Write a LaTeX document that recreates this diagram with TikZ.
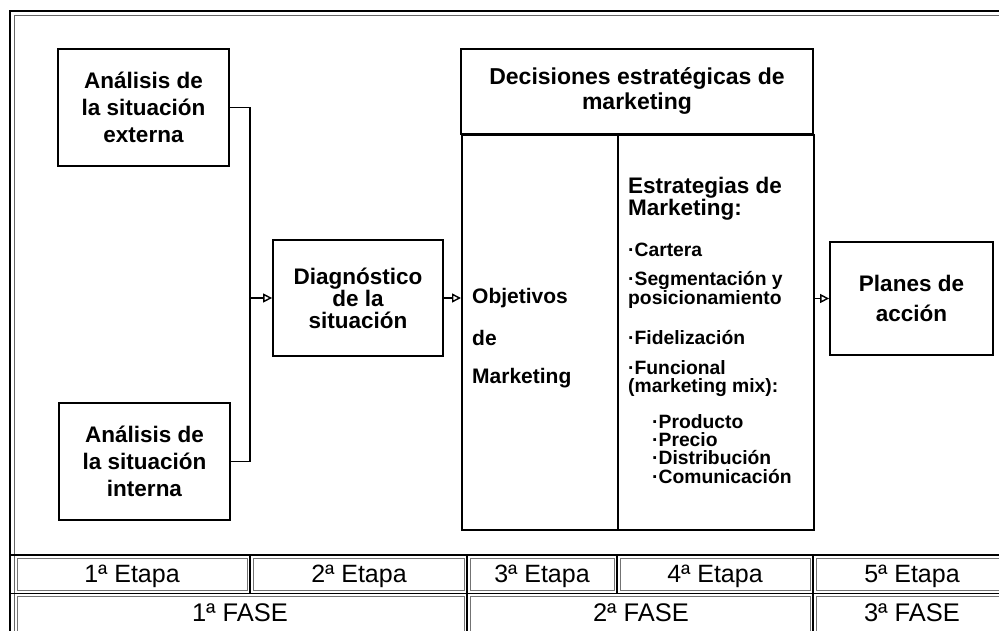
\documentclass[tikz,border=0pt]{standalone}
\usepackage{fontspec}
\setmainfont{Liberation Sans}
\usetikzlibrary{arrows.meta}
\begin{document}
\begin{tikzpicture}[x=1pt,y=-1pt,
  box/.style={draw,line width=1.8pt,inner sep=0pt,align=center,
    font=\bfseries\fontsize{22.5}{27}\selectfont},
  cell/.style={draw,line width=1.4pt},
  incell/.style={draw,line width=0.5pt,black!55},
  lbl/.style={inner sep=0pt,anchor=west,font=\bfseries\fontsize{19.3}{20}\selectfont},
  tlbl/.style={inner sep=0pt,font=\fontsize{25}{26}\selectfont},
  conn/.style={line width=1.5pt},
  arr/.style={line width=1.5pt,-{Triangle[open,length=9pt,width=9pt,line width=1.4pt]}}]
\useasboundingbox (0,0) rectangle (999,631);
\fill[white] (0,0) rectangle (999,631);
% outer frame (double)
\draw[line width=1.4pt] (10,11) rectangle (1012,645);
\draw[line width=0.6pt,black!60] (14,15) rectangle (1008,641);
% boxes
\node[box,minimum width=171,minimum height=117] (ext) at (143.5,107.5)
  {Análisis de\\la situación\\externa};
\node[box,minimum width=171,minimum height=117] (int) at (144.5,461.5)
  {Análisis de\\la situación\\interna};
\node[box,minimum width=170,minimum height=116,
  font=\bfseries\fontsize{22.5}{22}\selectfont] (diag) at (358,298)
  {Diagnóstico\\de la\\situación};
\node[box,minimum width=163,minimum height=113,
  font=\bfseries\fontsize{22.5}{30}\selectfont] (plan) at (911.5,298.5)
  {Planes de\\acción};
% big decision box
\node[box,minimum width=352,minimum height=85,
  font=\bfseries\fontsize{23}{25}\selectfont] (head) at (637,91.5)
  {Decisiones estratégicas de\\marketing};
\node[box,minimum width=156,minimum height=395,anchor=north west] (obj) at (461,134) {};
\node[box,minimum width=196,minimum height=395,anchor=north west] (est) at (617,134) {};
% objetivos text
\node[lbl,font=\bfseries\fontsize{21}{22}\selectfont] (o1) at (472,298) {Objetivos};
\node[lbl,font=\bfseries\fontsize{21}{22}\selectfont] (o2) at (472,338) {de};
\node[lbl,font=\bfseries\fontsize{21}{22}\selectfont] (o3) at (472,378) {Marketing};
% estrategias text
\node[lbl,font=\bfseries\fontsize{22.5}{22}\selectfont] (s1) at (628,188) {Estrategias de};
\node[lbl,font=\bfseries\fontsize{22.5}{22}\selectfont] (s2) at (628,210) {Marketing:};
\node[lbl] (s3) at (628,250) {·Cartera};
\node[lbl] (s4) at (628,280) {·Segmentación y};
\node[lbl] (s5) at (628,300) {posicionamiento};
\node[lbl] (s6) at (628,338) {·Fidelización};
\node[lbl] (s7) at (628,368) {·Funcional};
\node[lbl] (s8) at (628,388) {(marketing mix):};
\node[lbl] (s9) at (652,422) {·Producto};
\node[lbl] (s10) at (652,440) {·Precio};
\node[lbl] (s11) at (652,458) {·Distribución};
\node[lbl] (s12) at (652,477) {·Comunicación};
% connectors
\coordinate (jx) at (250,0);
\draw[conn] (ext.east) -- (ext.east -| jx) |- (int.east);
\draw[arr] (jx |- diag.west) -- (diag.west);
\draw[arr] (diag.east) -- (diag.east -| obj.west);
\draw[arr] (plan.west -| est.east) -- (plan.west);
% table
\draw[cell] (10,555) -- (1012,555);
\draw[cell] (10,593.5) -- (1012,593.5);
\foreach \x in {250,467,617,813} \draw[cell] (\x,555) -- (\x,593.5);
\foreach \x in {467,813} \draw[cell] (\x,593.5) -- (\x,645);
\foreach \a/\b in {14/250,250/467,467/617,617/813,813/1008}
  \draw[incell] (\a+3,558) rectangle (\b-3,590.5);
\foreach \a/\b in {14/467,467/813,813/1008}
  \draw[incell] (\a+3,596.5) rectangle (\b-3,641);
\node[tlbl] (e1) at (132,576) {1ª Etapa};
\node[tlbl] (e2) at (359,576) {2ª Etapa};
\node[tlbl] (e3) at (542,576) {3ª Etapa};
\node[tlbl] (e4) at (715,576) {4ª Etapa};
\node[tlbl] (e5) at (912,576) {5ª Etapa};
\node[tlbl,font=\fontsize{25.5}{26}\selectfont] (f1) at (240,613) {1ª FASE};
\node[tlbl,font=\fontsize{25.5}{26}\selectfont] (f2) at (641,613) {2ª FASE};
\node[tlbl,font=\fontsize{25.5}{26}\selectfont] (f3) at (912,613) {3ª FASE};
\end{tikzpicture}
\end{document}
